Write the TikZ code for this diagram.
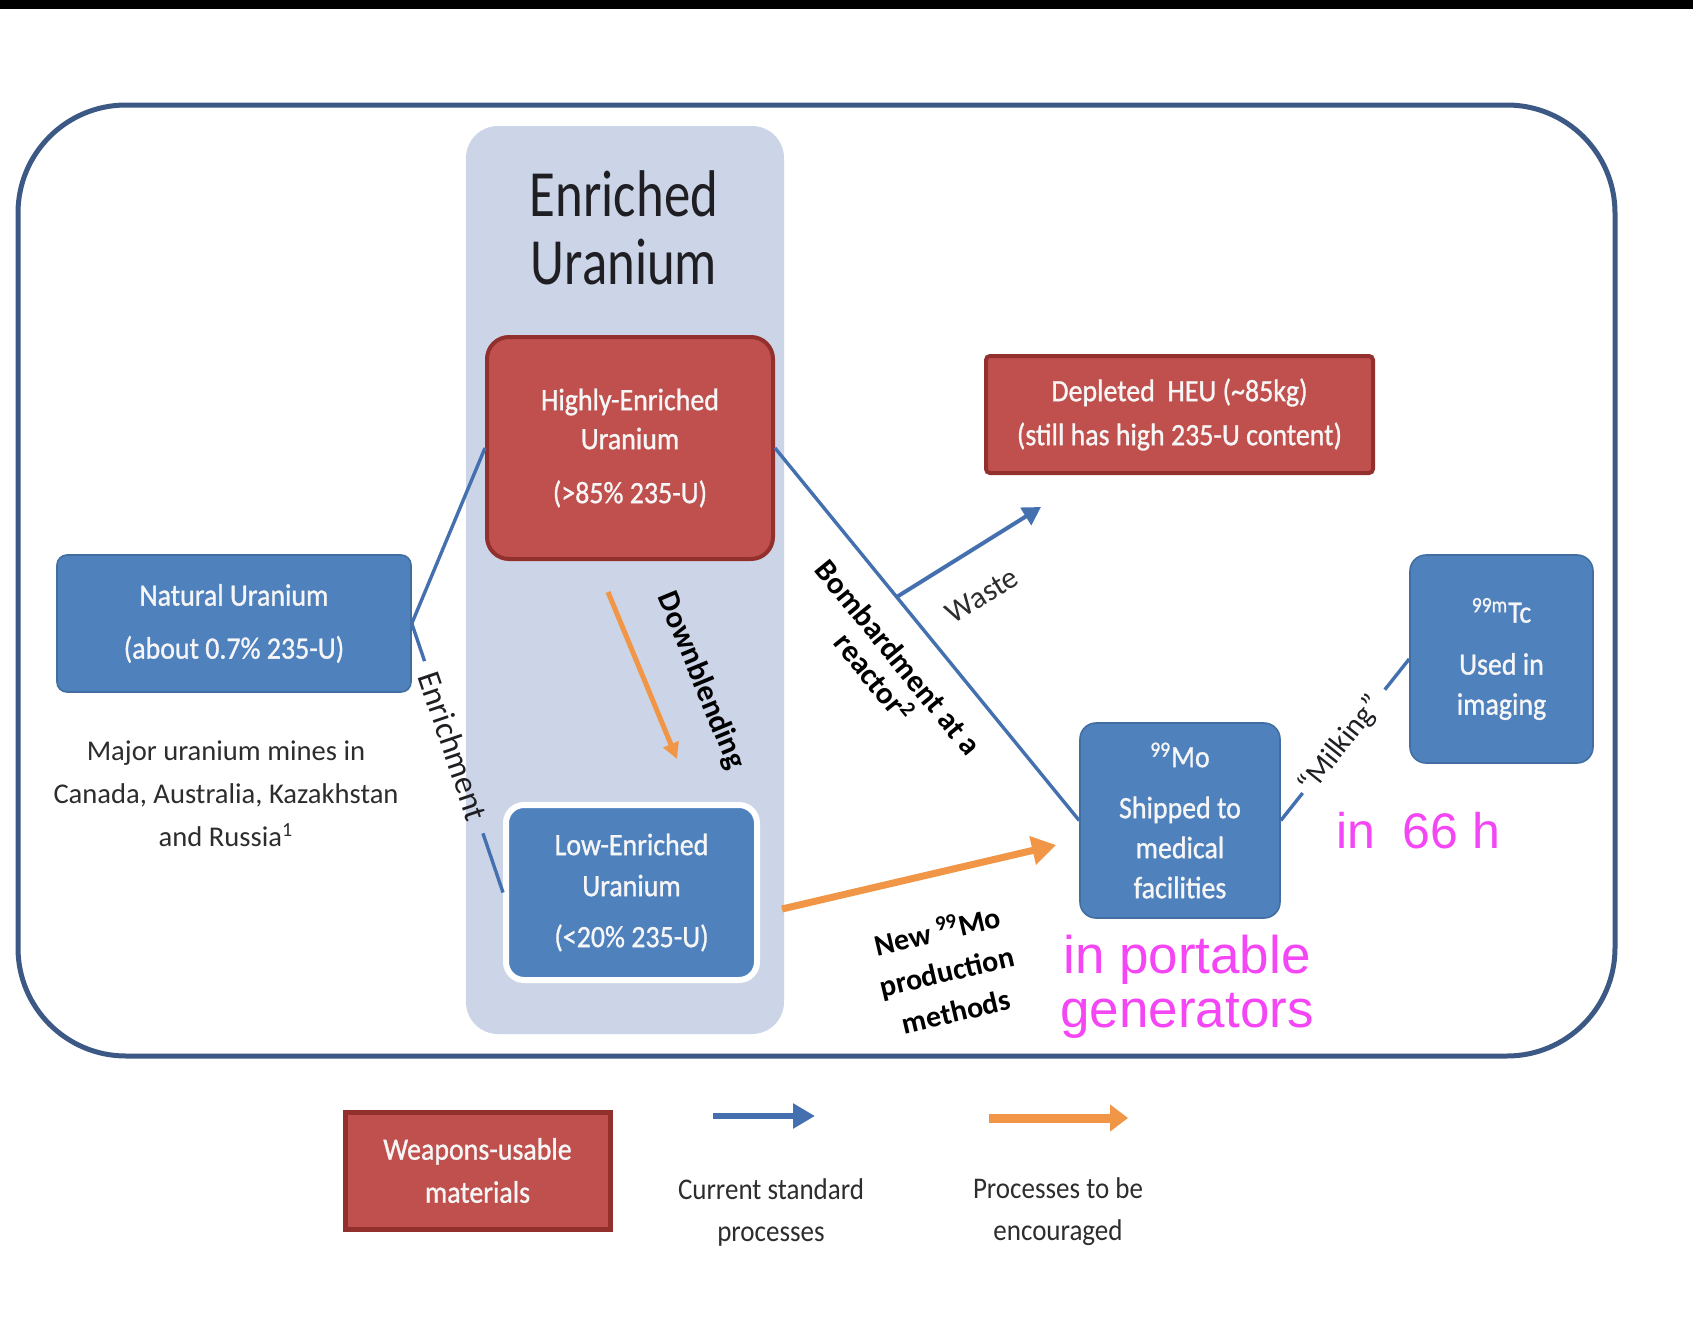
\documentclass[tikz,border=0pt]{standalone}
\usepackage{fontspec}
\setmainfont{Carlito}
\newfontfamily\boxfont[FakeStretch=0.9,FakeBold=1]{Carlito}
\newfontfamily\legfont[FakeStretch=0.9]{Carlito}
\newfontfamily\titlefont[FakeStretch=0.8]{Carlito}
\newfontfamily\helv{Liberation Sans}
\usetikzlibrary{arrows.meta,calc}
\definecolor{panelfill}{RGB}{204,213,231}
\definecolor{boxblue}{RGB}{79,129,189}
\definecolor{boxred}{RGB}{192,80,77}
\definecolor{rededge}{RGB}{145,48,45}
\definecolor{lineblue}{RGB}{68,112,176}
\definecolor{outerc}{RGB}{60,88,132}
\definecolor{orangec}{RGB}{240,150,70}
\definecolor{magentac}{RGB}{245,70,245}
\definecolor{textwhite}{RGB}{246,246,246}
\definecolor{capgray}{RGB}{45,45,45}
\definecolor{titlecol}{RGB}{30,30,35}
\tikzset{
  bbox/.style={fill=boxblue, draw=boxblue!85!black, line width=0.8pt, text=textwhite, align=center, inner sep=0pt},
  rbox/.style={fill=boxred, draw=rededge, line width=2pt, text=textwhite, align=center, inner sep=0pt},
  bline/.style={draw=lineblue, line width=1.7pt},
  oarrow/.style={draw=orangec, line width=3pt},
  blbl/.style={text=black, align=center},
  rlbl/.style={text=titlecol, align=center, font=\fontsize{16.5pt}{16.5pt}\selectfont}
}
\begin{document}
\begin{tikzpicture}[x=0.5pt,y=-0.5pt]
\useasboundingbox (0,0) rectangle (1693,1333);
\fill[white] (0,0) rectangle (1693,1333);
\fill[black] (0,0) rectangle (1693,9);

% frame and panel
\node[draw=outerc, line width=2.5pt, rounded corners=54pt, minimum width=798.5pt, minimum height=475.5pt, inner sep=0pt] (frame) at (816.5,580.5) {};
\node[fill=panelfill, rounded corners=16pt, minimum width=159pt, minimum height=454pt, inner sep=0pt] (panel) at (625,580) {};

\node[font=\titlefont\fontsize{33pt}{34pt}\selectfont, text=titlecol, align=center] (title) at (624,228) {Enriched\\Uranium};

% boxes
\node[rbox, rounded corners=11pt, minimum width=143pt, minimum height=111pt, font=\boxfont\fontsize{15.5pt}{19.5pt}\selectfont] (heu) at (630,448) {Highly-Enriched\\Uranium\\[7.5pt](>85\% 235-U)};
\node[bbox, rounded corners=5pt, minimum width=177pt, minimum height=68.5pt, font=\boxfont\fontsize{15.5pt}{26.5pt}\selectfont] (nu) at (234,623.5) {Natural Uranium\\(about 0.7\% 235-U)};
\node[bbox, draw=white, line width=3pt, rounded corners=9pt, minimum width=125.5pt, minimum height=87.5pt, font=\boxfont\fontsize{15.5pt}{20.5pt}\selectfont] (leu) at (631.5,892.5) {Low-Enriched\\Uranium\\[5pt](<20\% 235-U)};
\node[rbox, rounded corners=2pt, minimum width=193.5pt, minimum height=58.5pt, font=\boxfont\fontsize{15.5pt}{22pt}\selectfont] (dep) at (1179.5,414.5) {Depleted~ HEU (\textasciitilde85kg)\\(still has high 235-U content)};
\node[bbox, rounded corners=8pt, minimum width=100pt, minimum height=97.5pt, font=\boxfont\fontsize{15.5pt}{20pt}\selectfont] (mo) at (1180,820.5) {\textsuperscript{99}Mo\\[5.5pt]Shipped to\\medical\\facilities};
\node[bbox, rounded corners=8pt, minimum width=91.5pt, minimum height=104pt, font=\boxfont\fontsize{15.5pt}{20pt}\selectfont] (tc) at (1501.5,659) {\textsuperscript{99m}Tc\\[6pt]Used in\\imaging};

\node[font=\fontsize{14.3pt}{21.5pt}\selectfont, text=capgray, align=center] (mines) at (226,794) {Major uranium mines in\\Canada, Australia, Kazakhstan\\and Russia\textsuperscript{1}};

% enrichment
\draw[bline] (nu.east) -- (heu.west);
\path (nu.east) -- (leu.west) coordinate[pos=0.14] (en1) coordinate[pos=0.78] (en2) node[pos=0.455, sloped, rlbl] (enr) {Enrichment};
\draw[bline] (nu.east) -- (en1);
\draw[bline] (en2) -- (leu.west);

% bombardment and waste
\draw[bline] (heu.east) -- (mo.west) coordinate[pos=0.40] (wst) node[pos=0.5, sloped, anchor=north, inner ysep=12pt, blbl, font=\bfseries\fontsize{15.5pt}{16pt}\selectfont] (bomb) {Bombardment at a\\reactor\textsuperscript{2}};
\coordinate (wend) at (1041,507);
\draw[bline, line width=2pt, -{Triangle[length=9pt,width=10pt]}] (wst) -- (wend) node[pos=0.43, sloped, anchor=north, inner ysep=16pt, text=capgray, font=\fontsize{15.5pt}{15.5pt}\selectfont] (waste) {Waste};

% milking
\path (mo.east) -- (tc.west) coordinate[pos=0.17] (mk1) coordinate[pos=0.81] (mk2) node[pos=0.47, sloped, rlbl, font=\fontsize{15pt}{15pt}\selectfont] (milk) {“Milking”};
\draw[bline] (mo.east) -- (mk1);
\draw[bline] (mk2) -- (tc.west);

% downblending
\coordinate (db1) at (608,592);
\coordinate (db2) at (677,759);
\draw[oarrow, line width=2.5pt, -{Triangle[length=8pt,width=8pt]}] (db1) -- (db2) node[pos=0.65, sloped, anchor=south, inner ysep=18pt, blbl, font=\bfseries\fontsize{15.5pt}{15.5pt}\selectfont] (down) {Downblending};

% new production
\coordinate (o1) at (782,909);
\coordinate (o2) at (1056,845);
\draw[oarrow, line width=3.5pt, -{Triangle[length=12pt,width=14pt]}] (o1) -- (o2) node[pos=0.52, sloped, anchor=north, inner ysep=20pt, blbl, font=\bfseries\fontsize{15pt}{20.5pt}\selectfont] (newmo) {New \textsuperscript{99}Mo\\production\\methods};

% annotations
\node[font=\helv\fontsize{25pt}{25pt}\selectfont, text=magentac, inner sep=0pt] (t66) at (1418,831) {in~~66 h};
\node[font=\helv\fontsize{26.5pt}{27pt}\selectfont, text=magentac, align=center, inner sep=0pt] (portable) at (1187,987) {in portable\\generators};

% legend
\node[rbox, line width=2.5pt, minimum width=132.5pt, minimum height=58.5pt, font=\boxfont\fontsize{15.5pt}{21.5pt}\selectfont] (weap) at (477.5,1170.5) {Weapons-usable\\materials};
\coordinate (lb1) at (713,1116);
\coordinate (lb2) at (815,1116);
\draw[bline, line width=2.8pt, -{Triangle[length=11pt,width=12pt]}] (lb1) -- (lb2);
\coordinate (lo1) at (989,1118);
\coordinate (lo2) at (1128,1118);
\draw[oarrow, line width=4.5pt, -{Triangle[length=9pt,width=13pt]}] (lo1) -- (lo2);
\node[font=\legfont\fontsize{15pt}{21pt}\selectfont, text=capgray, align=center] (lgcur) at (771,1212) {Current standard\\processes};
\node[font=\legfont\fontsize{15pt}{21pt}\selectfont, text=capgray, align=center] (lgenc) at (1058,1212) {Processes to be\\encouraged};
\end{tikzpicture}
\end{document}
